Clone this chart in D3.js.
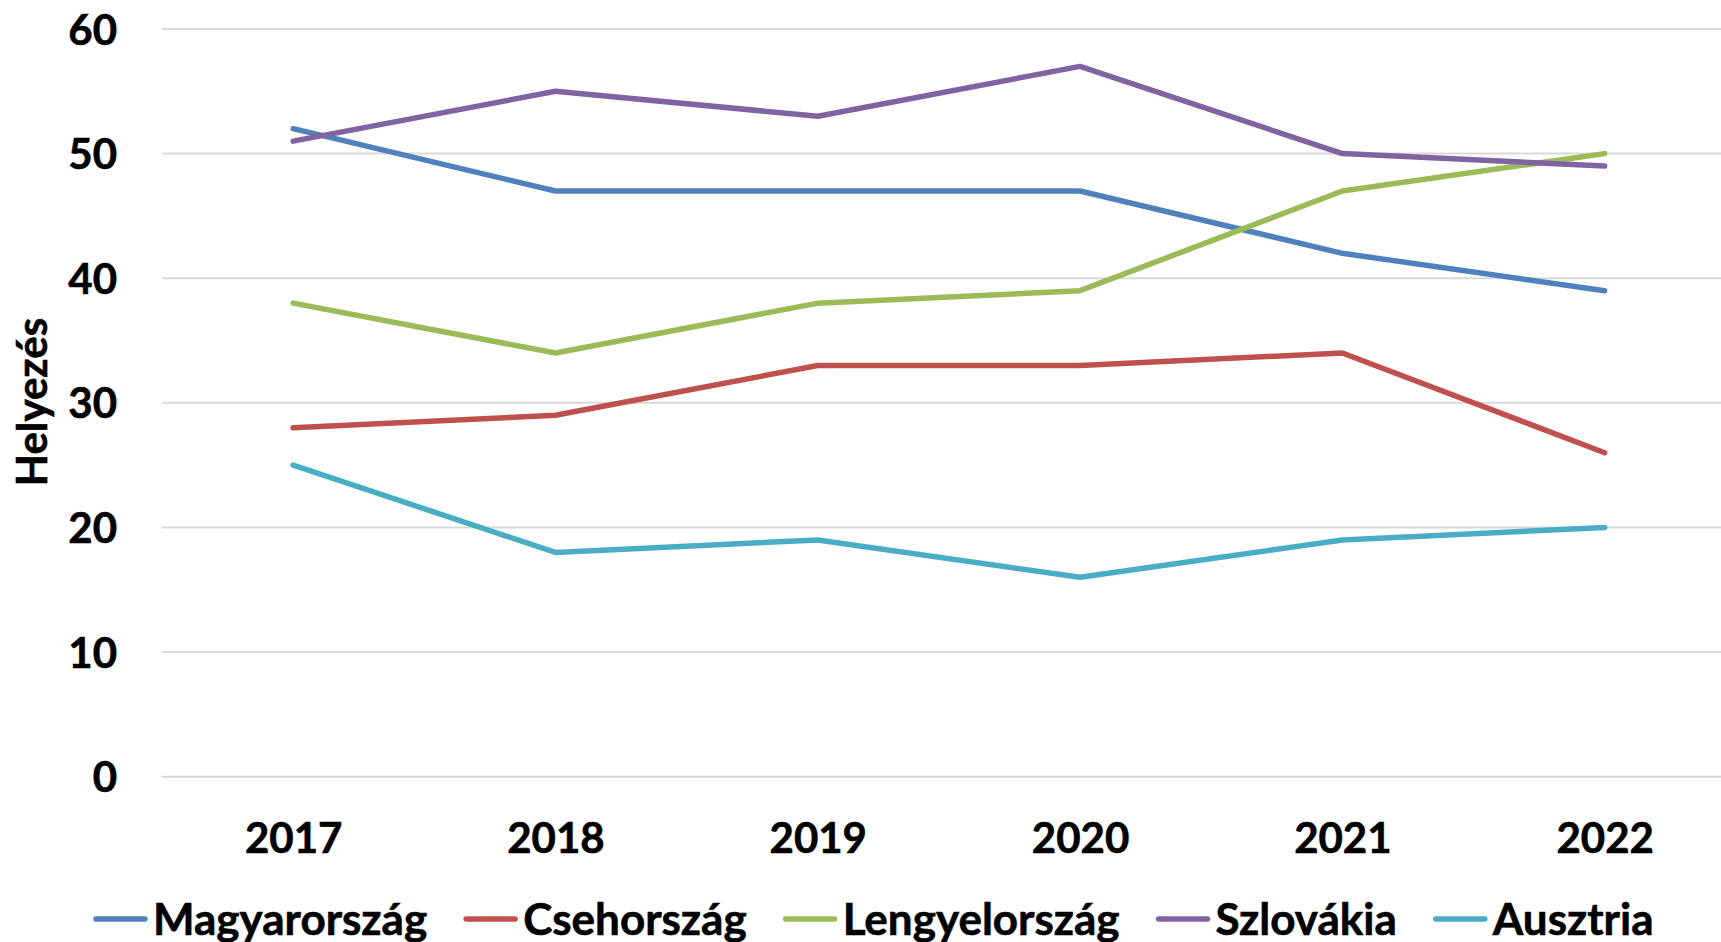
<!DOCTYPE html>
<html>
<head>
<meta charset="utf-8">
<script src="https://cdn.jsdelivr.net/npm/d3@7"></script>
<style>
    body { margin: 0; background: #fff; }
    svg text { font-family: Lato, "Open Sans", sans-serif; font-weight: 700; fill: #000; stroke: #000; stroke-width: 0.6px; }
</style>
</head>
<body>
<div id="chart"></div>
<script>
const years = ["2017", "2018", "2019", "2020", "2021", "2022"];
const seriesNames = ["Magyarország", "Csehország", "Lengyelország", "Szlovákia", "Ausztria"];
const magyarorszag = [52, 47, 47, 47, 42, 39];
const csehorszag = [28, 29, 33, 33, 34, 26];
const lengyelorszag = [38, 34, 38, 39, 47, 50];
const szlovakia = [51, 55, 53, 57, 50, 49];
const ausztria = [25, 18, 19, 16, 19, 20];
const yTicks = [0, 10, 20, 30, 40, 50, 60];
const colors = ["#4F81BD", "#C0504D", "#9BBB59", "#8064A2", "#4BACC6"];

const series = [magyarorszag, csehorszag, lengyelorszag, szlovakia, ausztria];

const w = 1721;
const h = 942;
const left = 162;
const step = 262.3;

const xScale = d3.scalePoint()
    .domain(years)
    .range([left + step / 2, left + step * 5.5]);

const yScale = d3.scaleLinear()
    .domain([0, 60])
    .range([776.7, 29]);

const svg = d3.select("#chart")
    .append("svg")
    .attr("width", w)
    .attr("height", h);

// gridlines
svg.append("g")
    .selectAll("line")
    .data(yTicks)
    .enter()
    .append("line")
    .attr("x1", left)
    .attr("x2", w)
    .attr("y1", (d) => yScale(d))
    .attr("y2", (d) => yScale(d))
    .attr("stroke", "#d9d9d9")
    .attr("stroke-width", 2);

// y axis labels
const yAxis = d3.axisLeft(yScale).tickValues(yTicks).tickSize(0).tickPadding(0);
const yg = svg.append("g")
    .attr("transform", "translate(117,0)")
    .call(yAxis);
yg.select(".domain").remove();
yg.selectAll("text")
    .style("font-size", "42px")
    .attr("dy", "0.36em");

// x axis labels
const xAxis = d3.axisBottom(xScale).tickSize(0).tickPadding(0);
const xg = svg.append("g")
    .attr("transform", "translate(0,853)")
    .call(xAxis);
xg.select(".domain").remove();
xg.selectAll("text")
    .style("font-size", "42px")
    .attr("dy", 0)
    .attr("y", 0);

// y title
svg.append("text")
    .attr("transform", "translate(47,402) rotate(-90)")
    .attr("text-anchor", "middle")
    .style("font-size", "42px")
    .text("Helyezés");

// lines
const line = d3.line()
    .x((d, i) => xScale(years[i]))
    .y((d) => yScale(d));

svg.append("g")
    .selectAll("path")
    .data(series)
    .enter()
    .append("path")
    .attr("d", line)
    .attr("fill", "none")
    .attr("stroke", (d, i) => colors[i])
    .attr("stroke-width", 5.5)
    .attr("stroke-linecap", "round")
    .attr("stroke-linejoin", "round");

// legend
const legend = svg.append("g").attr("transform", "translate(0,919)");
let lx = 93;
seriesNames.forEach((name, i) => {
    legend.append("line")
        .attr("x1", lx + 3)
        .attr("x2", lx + 52)
        .attr("y1", 0)
        .attr("y2", 0)
        .attr("stroke", colors[i])
        .attr("stroke-width", 5.5)
        .attr("stroke-linecap", "round");
    const t = legend.append("text")
        .attr("x", lx + 60)
        .attr("y", 16)
        .style("font-size", "44px")
        .text(name);
    lx += 60 + t.node().getComputedTextLength() + 36;
});
</script>
</body>
</html>
